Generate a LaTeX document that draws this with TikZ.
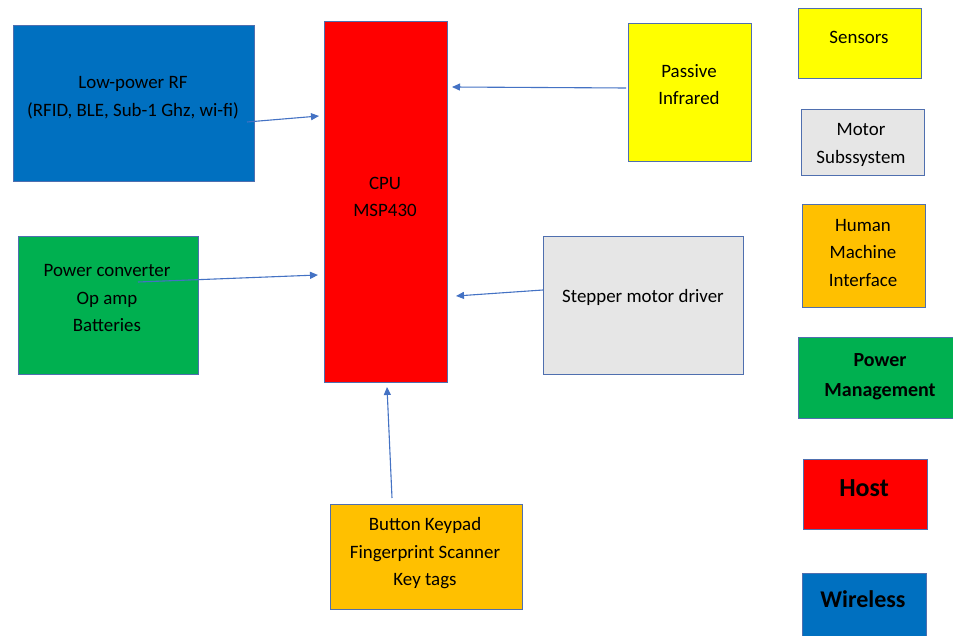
\documentclass[tikz,border=0pt]{standalone}
\usepackage{fontspec}
\setmainfont{Carlito}
\usetikzlibrary{arrows.meta}
\definecolor{cblue}{HTML}{0070C0}
\definecolor{cred}{HTML}{FF0000}
\definecolor{cgreen}{HTML}{00B050}
\definecolor{cyellow}{HTML}{FFFF00}
\definecolor{cgray}{HTML}{E6E6E6}
\definecolor{corange}{HTML}{FFC000}
\definecolor{bordc}{HTML}{4F6FAF}
\definecolor{arrc}{HTML}{4472C4}
\begin{document}
\begin{tikzpicture}[x=1pt,y=-1pt,
  box/.style={draw=bordc, line width=0.9pt, inner sep=0pt},
  txt/.style={inner sep=0pt, align=center, font=\fontsize{18.9}{27.5}\selectfont},
  legb/.style={inner sep=0pt, align=center, font=\fontsize{20}{30}\selectfont\bfseries},
  arr/.style={draw=arrc, line width=1.1pt, -{Triangle[length=8pt,width=7pt]}}]
\useasboundingbox (0,0) rectangle (953,636);
\clip (0,0) rectangle (953,636);
\fill[white] (0,0) rectangle (953,636);
% main blocks
\node[box, fill=cblue, minimum width=241pt, minimum height=156pt] (rf) at (133.5,103) {};
\node[box, fill=cred, minimum width=123pt, minimum height=361pt] (cpu) at (385.5,201.5) {};
\node[box, fill=cgreen, minimum width=180pt, minimum height=138pt] (pwr) at (108,305) {};
\node[box, fill=cyellow, minimum width=123pt, minimum height=138pt] (pir) at (689.5,92) {};
\node[box, fill=cgray, minimum width=200pt, minimum height=138pt] (step) at (643,305) {};
\node[box, fill=corange, minimum width=192pt, minimum height=105pt] (key) at (426,556.5) {};
% legend
\node[box, fill=cyellow, minimum width=123pt, minimum height=70pt] (lsens) at (859.5,43) {};
\node[box, fill=cgray, minimum width=123pt, minimum height=66pt] (lmot) at (862.5,142) {};
\node[box, fill=corange, minimum width=123pt, minimum height=103pt] (lhmi) at (863.5,255.5) {};
\node[box, fill=cgreen, minimum width=172pt, minimum height=81pt] (lpm) at (884,377.5) {};
\node[box, fill=cred, minimum width=124pt, minimum height=70pt] (lhost) at (865,494) {};
\node[box, fill=cblue, minimum width=124pt, minimum height=87pt] (lwir) at (864,616.5) {};
% texts
\node[txt] (trf) at (133,97.5) {Low-power RF\\(RFID, BLE, Sub-1 Ghz, wi-fi)};
\node[txt] (tcpu) at (385,197) {CPU\\MSP430};
\node[txt] (tpwr) at (107,298.5) {Power converter\\Op amp\\Batteries};
\node[txt] (tpir) at (689,84.5) {Passive\\Infrared};
\node[txt] (tstep) at (643,297.5) {Stepper motor driver};
\node[txt] (tkey) at (425,553.5) {Button Keypad\\Fingerprint Scanner\\Key tags};
\node[txt] (tsens) at (859,37.5) {Sensors};
\node[txt] (tmot) at (861,145) {Motor\\Subssystem};
\node[txt] (thmi) at (863,253) {Human\\Machine\\Interface};
\node[legb] (tpm) at (880,376.5) {Power\\Management};
\node[inner sep=0pt, font=\fontsize{26}{30}\selectfont\bfseries] (thost) at (864,488) {Host};
\node[inner sep=0pt, font=\fontsize{24}{30}\selectfont\bfseries] (twir) at (863,599) {Wireless};
% connectors
\coordinate (rfo) at (247,122);
\coordinate (cpuia) at (319,116);
\coordinate (pwro) at (138,282);
\coordinate (cpuib) at (318,275);
\coordinate (piro) at (626,88);
\coordinate (cpuic) at (452,87);
\coordinate (stepo) at (543,290);
\coordinate (cpuid) at (456,296);
\coordinate (keyo) at (392,498);
\coordinate (cpuie) at (387,387);
\draw[arr] (rfo) -- (cpuia);
\draw[arr] (pwro) -- (cpuib);
\draw[arr] (piro) -- (cpuic);
\draw[arr] (stepo) -- (cpuid);
\draw[arr] (keyo) -- (cpuie);
\end{tikzpicture}
\end{document}
